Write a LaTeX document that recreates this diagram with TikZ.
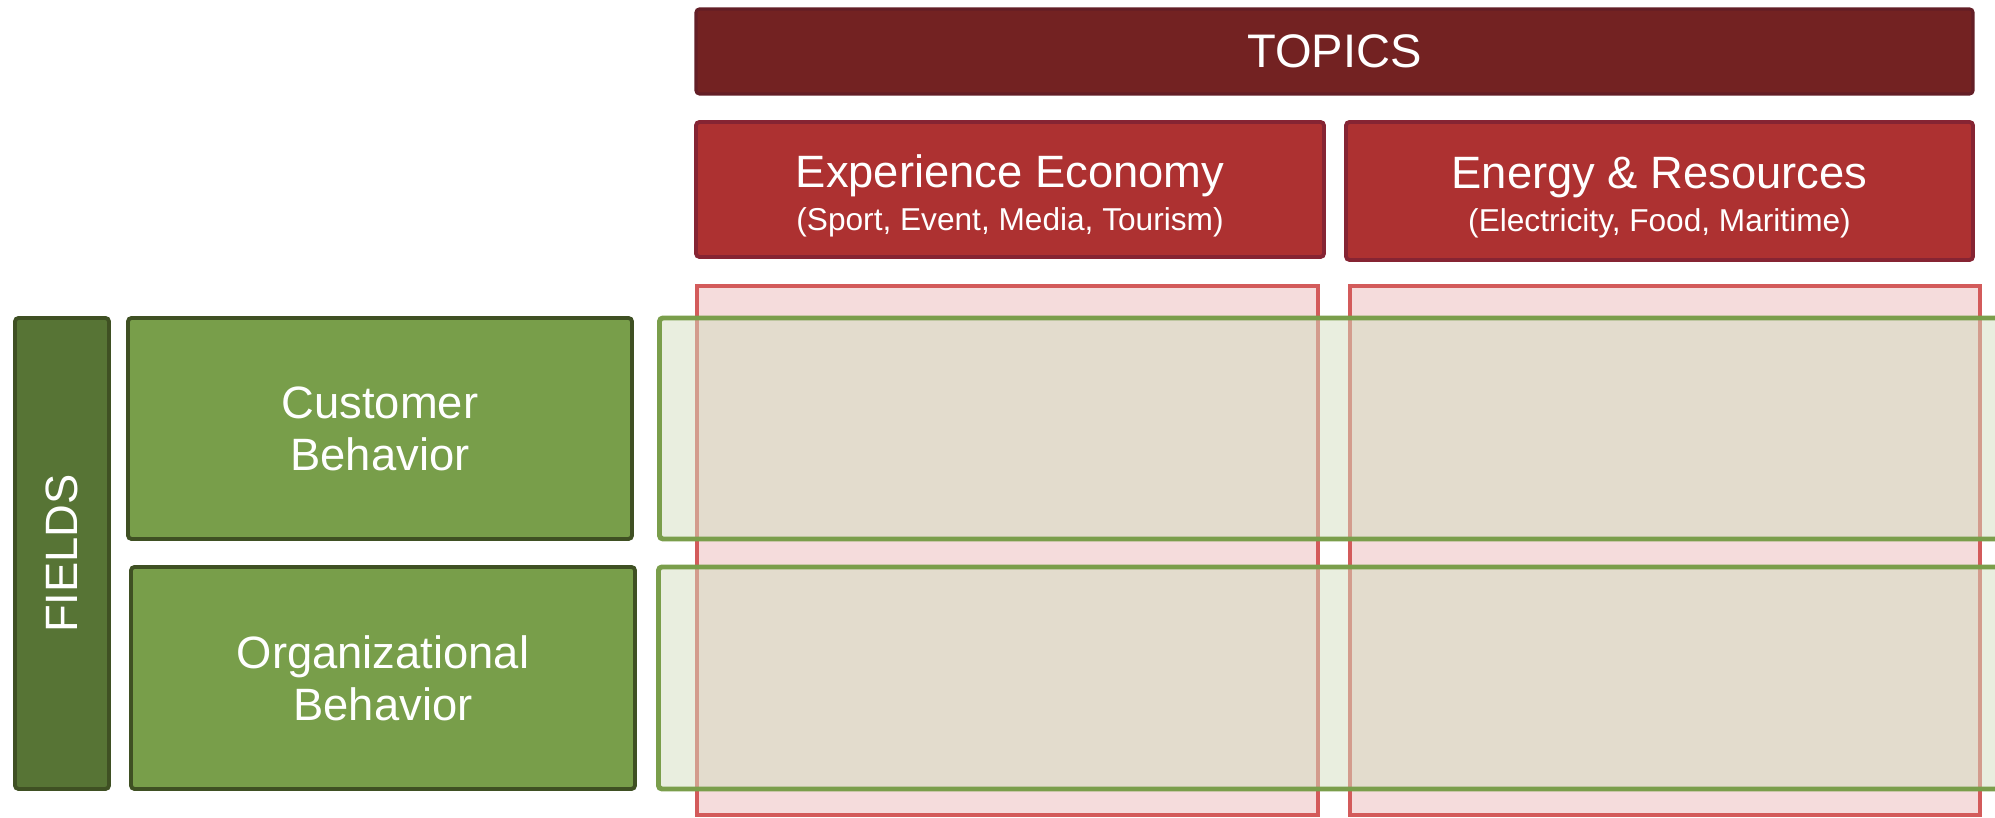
\documentclass[tikz,border=0pt]{standalone}
\usepackage{fontspec}
\setmainfont{Liberation Sans}
\usepackage{tikz}
\definecolor{topicdark}{RGB}{115,34,34}
\definecolor{topicdarkline}{RGB}{99,30,38}
\definecolor{topicred}{RGB}{173,49,49}
\definecolor{topicredline}{RGB}{134,36,51}
\definecolor{colfill}{RGB}{245,220,220}
\definecolor{colline}{RGB}{211,91,91}
\definecolor{rowfill}{RGB}{211,221,191}
\definecolor{rowline}{RGB}{122,158,75}
\definecolor{fieldgreen}{RGB}{120,158,74}
\definecolor{fielddark}{RGB}{87,116,53}
\definecolor{fieldline}{RGB}{63,80,35}
\tikzset{box/.style={rectangle, rounded corners=1pt, inner sep=0pt, text=white, align=center}}
\tikzset{topicbar/.style={box, fill=topicdark, draw=topicdarkline, line width=0.9pt,
  font=\fontsize{13.4}{15}\selectfont}}
\tikzset{topicbox/.style={box, fill=topicred, draw=topicredline, line width=1.1pt,
  font=\fontsize{12.9}{14.8}\selectfont}}
\tikzset{topiccol/.style={rectangle, inner sep=0pt, fill=colfill, draw=colline, line width=1.1pt}}
\tikzset{fieldrow/.style={rectangle, rounded corners=1pt, inner sep=0pt, fill=rowfill,
  fill opacity=0.5, draw=rowline, line width=1.4pt}}
\tikzset{fieldbox/.style={box, fill=fieldgreen, draw=fieldline, line width=1.1pt,
  font=\fontsize{12.9}{14.8}\selectfont}}
\tikzset{fieldbar/.style={box, fill=fielddark, draw=fieldline, line width=1.1pt,
  font=\fontsize{12.9}{14.8}\selectfont}}
\newcommand{\topictext}[2]{\rule{0pt}{12.8pt}#1\\[-2.5pt]{\fontsize{9}{11}\selectfont #2}}

\begin{document}
\begin{tikzpicture}
      \useasboundingbox (0,0) rectangle (19.95,8.18);
      \node [topiccol, minimum width=6.21cm, minimum height=5.29cm] (colexp) at (10.075,2.675) {};
      \node [topiccol, minimum width=6.30cm, minimum height=5.29cm] (colenergy) at (16.65,2.675) {};
      \node [fieldrow, minimum width=13.6cm, minimum height=2.21cm, anchor=west] (rowcust) at (6.57,3.895) {};
      \node [fieldrow, minimum width=13.6cm, minimum height=2.22cm, anchor=west] (roworg) at (6.56,1.40) {};
      \node [topicbar, minimum width=12.77cm, minimum height=0.85cm] (topics) at (13.345,7.665) {TOPICS};
      \node [topicbox, minimum width=6.28cm, minimum height=1.35cm] (exp) at (10.10,6.285)
        {\topictext{Experience Economy}{(Sport, Event, Media, Tourism)}};
      \node [topicbox, minimum width=6.27cm, minimum height=1.38cm] (energy) at (16.595,6.27)
        {\topictext{Energy \& Resources}{(Electricity, Food, Maritime)}};
      \node [fieldbar, rotate=90, minimum width=4.71cm, minimum height=0.94cm] (fields) at (0.62,2.645) {FIELDS};
      \node [fieldbox, minimum width=5.04cm, minimum height=2.21cm] (cust) at (3.80,3.895) {Customer\\Behavior};
      \node [fieldbox, minimum width=5.04cm, minimum height=2.22cm] (org) at (3.83,1.40) {Organizational\\Behavior};
\end{tikzpicture}
\end{document}
